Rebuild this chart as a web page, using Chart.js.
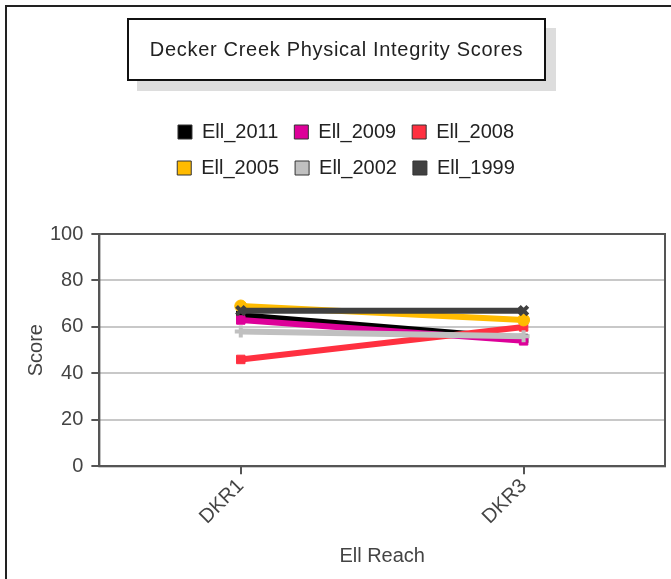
<!DOCTYPE html>
<html>
<head>
<meta charset="utf-8">
<script src="https://cdn.jsdelivr.net/npm/chart.js@4/dist/chart.umd.min.js"></script>
<style>
  body { margin: 0; background: #fff; overflow: hidden; }
  #wrap { position: relative; width: 671px; height: 579px; overflow: hidden; }
  #frame { position: absolute; left: 5px; top: 5px; width: 700px; height: 620px;
           border-left: 2px solid #222; border-top: 2px solid #222; }
  #title { position: absolute; left: 127px; top: 18px; width: 415px; height: 59px;
           border: 2px solid #111; background: #fff; box-shadow: 10px 10px 0 #ddd;
           font: 20px "Liberation Sans", Arial, sans-serif; letter-spacing: 0.7px; color: #222;
           display: flex; align-items: center; justify-content: center; }
  canvas { position: absolute; left: 0; top: 0; }
</style>
</head>
<body>
<div id="wrap">
  <div id="frame"></div>
  <canvas id="chart" width="675" height="579"></canvas>
  <div id="title">Decker Creek Physical Integrity Scores</div>
</div>
<script>
// reaches along the creek
const reaches = ["DKR1", "DKR3"];

// scores per survey year
const seriesNames = ["Ell_2011", "Ell_2009", "Ell_2008", "Ell_2005", "Ell_2002", "Ell_1999"];
const ell2011 = [65, 55];
const ell2009 = [63, 54];
const ell2008 = [46, 60];
const ell2005 = [69, 63];
const ell2002 = [58, 56];
const ell1999 = [67, 67];

const yTicks = [0, 20, 40, 60, 80, 100];

const colors = ["#000000", "#dd0099", "#ff3040", "#ffbb00", "#c0c0c0", "#404040"];
const markers = ["rect", "rect", "rect", "circle", "cross", "crossRot"];
const values = [ell2011, ell2009, ell2008, ell2005, ell2002, ell1999];

const font = "'Liberation Sans', Arial, sans-serif";

const datasets = seriesNames.map((name, i) => ({
  label: name,
  data: values[i],
  borderColor: colors[i],
  backgroundColor: colors[i],
  borderWidth: 6,
  pointStyle: markers[i],
  pointRadius: 6,
  pointBorderWidth: markers[i] === "cross" || markers[i] === "crossRot" ? 4 : 1,
  pointBorderColor: colors[i],
  pointBackgroundColor: colors[i],
  // later series on top, like the original
  order: seriesNames.length - i
}));

// legend: three items per row, centred under the title, room below it
const legendCenter = 346;
const legendWidth = 420;

const layoutPlugin = {
  id: "layoutPlugin",
  beforeUpdate(chart) {
    const legend = chart.legend;
    if (!legend || legend._patched) return;
    legend._patched = true;
    const fit = legend.fit;
    legend.fit = function () {
      const mw = this.maxWidth;
      this.maxWidth = legendWidth;
      fit.call(this);
      this.maxWidth = mw;
      this.width = mw;
      this.height += 46;
    };
  },
  afterLayout(chart) {
    const legend = chart.legend;
    legend.left = legendCenter - legendWidth / 2;
    legend.right = legendCenter + legendWidth / 2;
    legend.width = legendWidth;
  },
  afterDraw(chart) {
    const a = chart.chartArea;
    const ctx = chart.ctx;
    ctx.save();
    ctx.strokeStyle = "#555";
    ctx.lineWidth = 2;
    ctx.strokeRect(a.left, a.top, a.right - a.left, a.bottom - a.top);
    ctx.restore();
  }
};

new Chart(document.getElementById("chart"), {
  type: "line",
  data: { labels: reaches, datasets: datasets },
  options: {
    responsive: false,
    animation: false,
    layout: { padding: { top: 106, right: 1, left: 24, bottom: 7 } },
    plugins: {
      tooltip: { enabled: false },
      legend: {
        position: "top",
        labels: {
          font: { family: font, size: 20 },
          color: "#222",
          boxWidth: 14,
          boxHeight: 14,
          padding: 16,
          sort: (a, b) => a.datasetIndex - b.datasetIndex,
          generateLabels: (chart) =>
            Chart.defaults.plugins.legend.labels.generateLabels(chart).map(l => ({
              ...l,
              fillStyle: colors[l.datasetIndex],
              strokeStyle: "#333",
              lineWidth: 1,
              pointStyle: undefined
            }))
        }
      }
    },
    scales: {
      x: {
        offset: true,
        grid: { offset: false, drawOnChartArea: false, drawTicks: true, tickLength: 8, tickColor: "#555", lineWidth: 2 },
        border: { color: "#555", width: 2 },
        ticks: { font: { family: font, size: 20 }, color: "#444", maxRotation: 45, minRotation: 45, padding: 0 },
        title: { display: true, text: "Ell Reach", font: { family: font, size: 20 }, color: "#444", padding: { top: 15 } }
      },
      y: {
        min: 0,
        max: 100,
        afterBuildTicks: (axis) => { axis.ticks = yTicks.map(v => ({ value: v })); },
        grid: { color: "#c8c8c8", lineWidth: 2, tickLength: 8, tickColor: "#555" },
        border: { color: "#555", width: 2 },
        ticks: { font: { family: font, size: 20 }, color: "#444", padding: 8 },
        title: { display: true, text: "Score", font: { family: font, size: 20 }, color: "#444", padding: { top: 0, bottom: -6 } }
      }
    }
  },
  plugins: [layoutPlugin]
});
</script>
</body>
</html>
